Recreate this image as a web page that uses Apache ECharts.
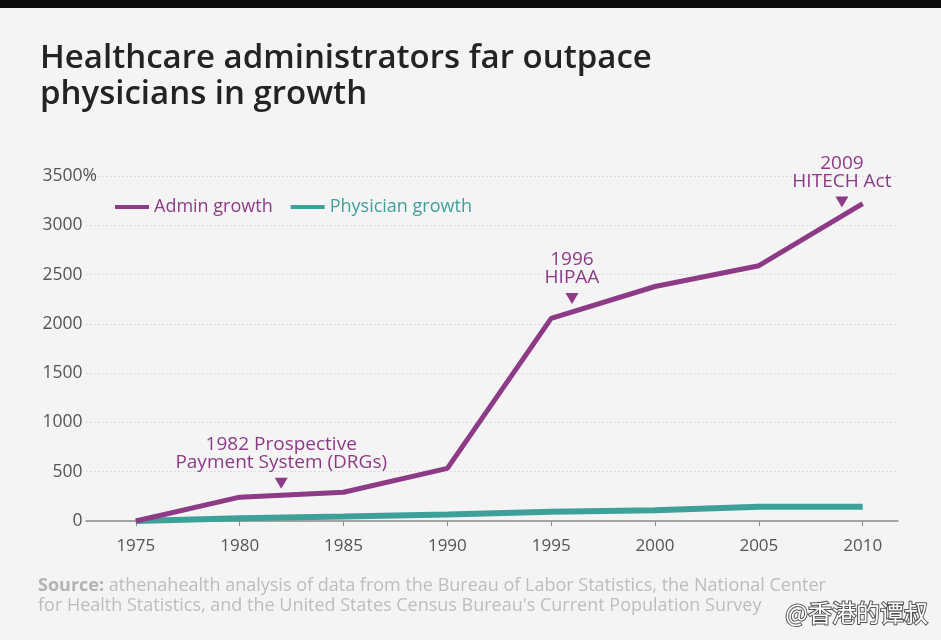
<!DOCTYPE html>
<html>
<head>
<meta charset="utf-8">
<script src="https://cdn.jsdelivr.net/npm/echarts@6/dist/echarts.min.js"></script>
<style>
  html, body { margin: 0; padding: 0; background: #f4f4f4; }
  #chart { width: 941px; height: 640px; }
</style>
</head>
<body>
<div id="chart"></div>
<script>
const years = [1975, 1980, 1985, 1990, 1995, 2000, 2005, 2010];
const adminGrowth = [0, 242, 292, 534, 2056, 2379, 2590, 3220];
const physicianGrowth = [0, 28, 45, 65, 95, 110, 145, 145];
const yTicks = [0, 500, 1000, 1500, 2000, 2500, 3000, 3500];
const events = [
  { year: 1982, level: 383, text: "1982 Prospective\nPayment System (DRGs)" },
  { year: 1996, level: 2258, text: "1996\nHIPAA" },
  { year: 2009, level: 3236, text: "2009\nHITECH Act" }
];

const purple = "#8d3b86";
const teal = "#3ea199";
const font = "Open Sans";

const chartDom = document.getElementById("chart");
const myChart = echarts.init(chartDom);

// only the top tick shows its "%", the others keep an invisible one so all numbers line up
const yLabel = (v) => v + (v === yTicks[yTicks.length - 1] ? "{p|%}" : "{h|%}");

const option = {
  backgroundColor: "#f4f4f4",
  animation: false,
  textStyle: { fontFamily: font },
  title: {
    text: "Healthcare administrators far outpace\nphysicians in growth",
    left: 35,
    top: 36,
    textStyle: {
      fontFamily: font,
      fontSize: 33,
      fontWeight: 600,
      color: "#232323",
      lineHeight: 36
    }
  },
  legend: {
    left: 110,
    top: 193,
    itemWidth: 34,
    itemHeight: 4,
    itemGap: 18,
    icon: "rect",
    textStyle: { fontSize: 18, fontFamily: font },
    data: [
      { name: "Admin growth", textStyle: { color: purple } },
      { name: "Physician growth", textStyle: { color: teal } }
    ]
  },
  grid: { left: 86, right: 43, top: 176, bottom: 119 },
  xAxis: {
    type: "value",
    min: 1972.6,
    max: 2011.7,
    splitLine: { show: false },
    axisLine: { show: true, lineStyle: { color: "#8a8a8a", width: 1.5 } },
    axisTick: { show: true, customValues: years, length: 5, lineStyle: { color: "#8a8a8a" } },
    axisLabel: {
      customValues: years,
      margin: 17,
      fontSize: 17,
      color: "#555",
      fontFamily: font,
      formatter: (v) => String(v)
    }
  },
  yAxis: {
    type: "value",
    min: 0,
    max: 3500,
    interval: 500,
    axisLine: { show: false },
    axisTick: { show: false },
    axisLabel: {
      margin: -11,
      fontSize: 17.5,
      color: "#555",
      fontFamily: font,
      formatter: yLabel,
      rich: {
        p: { fontSize: 17.5, color: "#555", fontFamily: font },
        h: { fontSize: 17.5, color: "rgba(0,0,0,0)", fontFamily: font }
      }
    },
    splitLine: { lineStyle: { color: "#dcdcdc", type: [2, 2], width: 1 } }
  },
  series: [
    {
      name: "Physician growth",
      type: "line",
      data: years.map((y, i) => [y, physicianGrowth[i]]),
      symbol: "none",
      lineStyle: { color: teal, width: 6 },
      itemStyle: { color: teal },
      z: 2
    },
    {
      name: "Admin growth",
      type: "line",
      data: years.map((y, i) => [y, adminGrowth[i]]),
      symbol: "none",
      lineStyle: { color: purple, width: 5 },
      itemStyle: { color: purple },
      z: 3,
      markPoint: {
        symbol: "triangle",
        symbolSize: [13, 11],
        symbolRotate: 180,
        itemStyle: { color: purple },
        label: {
          show: true,
          position: "top",
          distance: 6,
          color: purple,
          fontSize: 19,
          lineHeight: 18,
          fontFamily: font,
          align: "center",
          formatter: (p) => p.name
        },
        data: events.map((e) => ({ name: e.text, coord: [e.year, e.level] }))
      }
    }
  ],
  graphic: [
    {
      type: "rect",
      left: 0,
      top: 0,
      shape: { width: 941, height: 8 },
      style: { fill: "#0c0c0c" }
    },
    {
      type: "text",
      left: 38,
      top: 576,
      style: {
        text: "{b|Source:} athenahealth analysis of data from the Bureau of Labor Statistics, the National Center\nfor Health Statistics, and the United States Census Bureau's Current Population Survey",
        fill: "#bdbdbd",
        font: "18px 'Open Sans'",
        lineHeight: 20,
        rich: {
          b: { fill: "#b3b3b3", font: "bold 18px 'Open Sans'" }
        }
      }
    },
    {
      type: "text",
      right: 12,
      top: 600,
      style: {
        text: "@香港的谭叔",
        fill: "#ffffff",
        font: "24px 'Noto Sans CJK SC'",
        stroke: "#555",
        lineWidth: 2
      }
    }
  ]
};

myChart.setOption(option);

window.addEventListener("resize", () => myChart.resize());
</script>
</body>
</html>
